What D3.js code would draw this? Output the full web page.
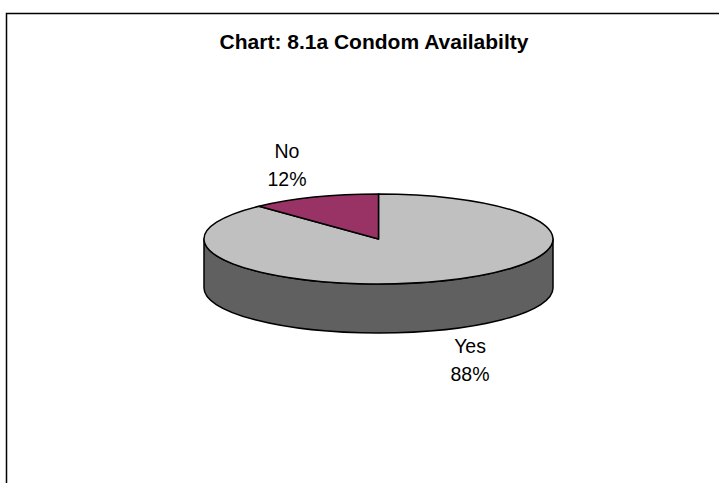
<!DOCTYPE html>
<html>
<head>
<meta charset="utf-8">
<script src="https://cdn.jsdelivr.net/npm/d3@7"></script>
<style>
  html, body { margin: 0; padding: 0; background: #fff; }
  svg { display: block; }
  text { font-family: "Liberation Sans", Arial, sans-serif; fill: #000; }
</style>
</head>
<body>
<script>
// Chart data
const title = "Chart: 8.1a Condom Availabilty";
const categories = ["Yes", "No"];
const values = [88, 12];
const topColors = ["#c0c0c0", "#993366"];
const sideColors = ["#606060", "#4d1a33"];

const W = 719, H = 483;
const svg = d3.select("body").append("svg")
  .attr("width", W).attr("height", H);

// Chart frame with a soft drop shadow (runs off the right and bottom)
svg.append("rect")
  .attr("x", 8.5).attr("y", 15.5)
  .attr("width", W + 20).attr("height", H + 20)
  .attr("fill", "none").attr("stroke", "#9a9a9a").attr("stroke-width", 1);
svg.append("rect")
  .attr("x", 6.5).attr("y", 13.5)
  .attr("width", W + 20).attr("height", H + 20)
  .attr("fill", "#fff").attr("stroke", "#000").attr("stroke-width", 1.5);

svg.append("text")
  .attr("x", 374).attr("y", 49)
  .attr("text-anchor", "middle")
  .attr("font-weight", "bold")
  .attr("font-size", 21)
  .text(title);

// 3D pie geometry: elliptical top face plus a vertical wall
const cx = 378.5, cy = 239, rx = 174.5, ry = 45, depth = 49;
const pt = a => [cx + rx * Math.sin(a), cy - ry * Math.cos(a)];

const pie = d3.pie().sort(null).value(d => d.value);
const arcs = pie(categories.map((c, i) => ({ name: c, value: values[i], i })));

const g = svg.append("g");

// Front wall: only the part with angles between 90° and 270° is visible
arcs.forEach(d => {
  const a0 = Math.max(d.startAngle, Math.PI / 2);
  const a1 = Math.min(d.endAngle, 3 * Math.PI / 2);
  if (a1 <= a0) return;
  const p0 = pt(a0), p1 = pt(a1);
  const large = (a1 - a0) > Math.PI ? 1 : 0;
  g.append("path")
    .attr("d",
      `M${p0[0]},${p0[1]} A${rx},${ry} 0 ${large} 1 ${p1[0]},${p1[1]} ` +
      `L${p1[0]},${p1[1] + depth} A${rx},${ry} 0 ${large} 0 ${p0[0]},${p0[1] + depth} Z`)
    .attr("fill", sideColors[d.data.i])
    .attr("stroke", "#000").attr("stroke-width", 1.5)
    .attr("stroke-linejoin", "round");
});

// Top face slices
arcs.forEach(d => {
  const p0 = pt(d.startAngle), p1 = pt(d.endAngle);
  const large = (d.endAngle - d.startAngle) > Math.PI ? 1 : 0;
  g.append("path")
    .attr("d",
      `M${cx},${cy} L${p0[0]},${p0[1]} A${rx},${ry} 0 ${large} 1 ${p1[0]},${p1[1]} Z`)
    .attr("fill", topColors[d.data.i])
    .attr("stroke", "#000").attr("stroke-width", 1.5)
    .attr("stroke-linejoin", "round");
});

// Category and percentage labels outside each slice
const total = d3.sum(values);
const pct = d3.format(".0%");
arcs.forEach(d => {
  const mid = (d.startAngle + d.endAngle) / 2;
  const lx = cx + rx * 1.425 * Math.sin(mid);
  const ly = cy - ry * 1.74 * Math.cos(mid) + (Math.cos(mid) < 0 ? depth : 0);
  const t = svg.append("text")
    .attr("text-anchor", "middle")
    .attr("font-size", 19.5);
  t.append("tspan").attr("x", lx).attr("y", ly - 8).text(d.data.name);
  t.append("tspan").attr("x", lx).attr("y", ly + 20).text(pct(d.data.value / total));
});
</script>
</body>
</html>
